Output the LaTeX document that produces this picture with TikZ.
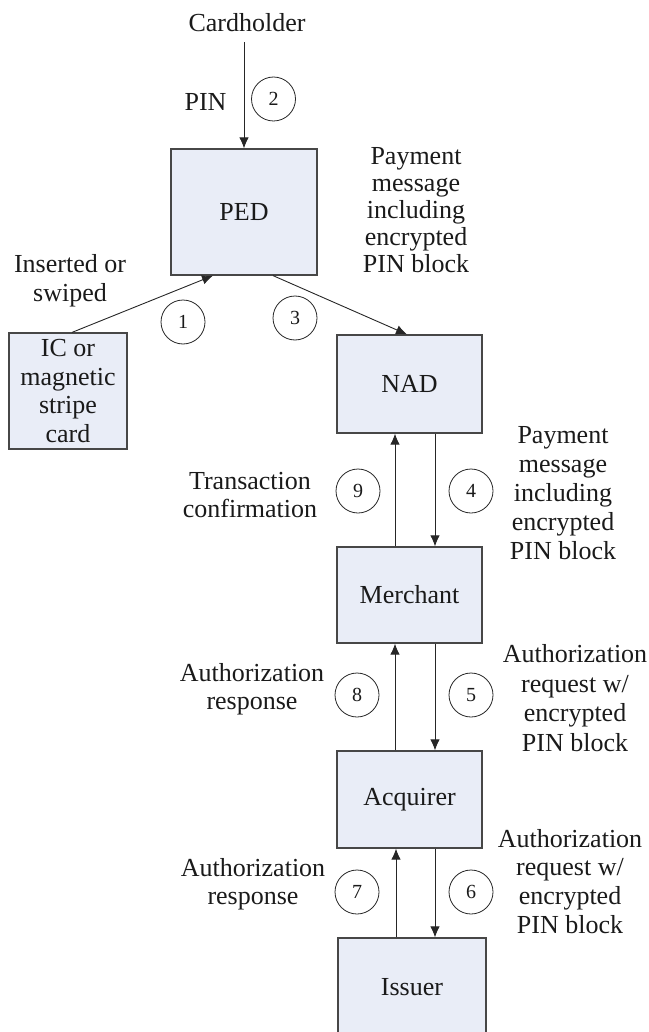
\documentclass[tikz,border=0pt]{standalone}
\usepackage{fontspec}
\setmainfont{Liberation Serif}
\usetikzlibrary{arrows.meta}

\definecolor{boxfill}{HTML}{E9EDF7}
\definecolor{ink}{HTML}{1A1A1A}
\newcommand\txtfont[1]{\fontsize{26}{#1}\selectfont}

\begin{document}
\begin{tikzpicture}[x=1pt,y=-1pt,
  every node/.style={text=ink},
  box/.style={draw=black!72, line width=1.2pt, fill=boxfill, inner sep=0pt,
    align=center, font=\txtfont{28.5}},
  lbl/.style={align=center, inner sep=0pt, font=\txtfont{#1},
    execute at begin node=\strut, execute at end node=\strut},
  lbl/.default=28,
  num/.style={draw=black!85, circle, line width=0.8pt, minimum size=44pt,
    inner sep=0pt, font=\fontsize{20}{22}\selectfont},
  arr/.style={draw=black!85, line width=0.9pt, -{Latex[length=11pt,width=9.5pt]}}
]
\useasboundingbox (0,0) rectangle (648,1032);

% parties and devices
\node[box, minimum width=146pt, minimum height=126pt] (ped)  at (244,212)   {PED};
\node[box, minimum width=118pt, minimum height=116pt] (card) at (68,391)    {IC or\\magnetic\\stripe\\card};
\node[box, minimum width=145pt, minimum height=98pt]  (nad)  at (409.5,384) {NAD};
\node[box, minimum width=145pt, minimum height=96pt]  (merchant) at (409.5,595) {Merchant};
\node[box, minimum width=145pt, minimum height=97pt]  (acquirer) at (409.5,799.5) {Acquirer};
\node[box, minimum width=148pt, minimum height=98pt]  (issuer)   at (412,987) {Issuer};

% cardholder and PIN entry
\node[lbl] (cardholder) at (247,26) {Cardholder};
\node[lbl] (pinlbl) at (205.5,104.5) {PIN};
\node[num] (n2) at (273.5,99) {2};

% message labels
\node[lbl=27] (msgped) at (416,214.5) {Payment\\message\\including\\encrypted\\PIN block};
\node[lbl=29] (swipe) at (70,282.5) {Inserted or\\swiped};
\node[num] (n1) at (183,322) {1};
\node[num] (n3) at (295,318) {3};

\node[lbl=28] (confirm) at (250,499) {Transaction\\confirmation};
\node[num] (n9) at (358,491) {9};
\node[num] (n4) at (471,491) {4};
\node[lbl=29] (msgnad) at (563,497) {Payment\\message\\including\\encrypted\\PIN block};

\node[lbl=28] (resp8) at (252,691) {Authorization\\response};
\node[num] (n8) at (357,695) {8};
\node[num] (n5) at (471,695) {5};
\node[lbl=29.6] (req5) at (575,702.5) {Authorization\\request w/\\encrypted\\PIN block};

\node[lbl=28] (resp7) at (253,886) {Authorization\\response};
\node[num] (n7) at (357,892) {7};
\node[num] (n6) at (471,892) {6};
\node[lbl=28.7] (req6) at (570,885.5) {Authorization\\request w/\\encrypted\\PIN block};

% message flow
\draw[arr] ([yshift=-2pt]cardholder.south -| ped.north) -- (ped.north);
\draw[arr] ([xshift=4pt]card.north) -- ([xshift=-31pt]ped.south);
\draw[arr] ([xshift=29pt]ped.south) -- ([xshift=-2.5pt]nad.north);

\draw[arr] ([xshift=25.5pt]nad.south) -- ([xshift=25.5pt]merchant.north);
\draw[arr] ([xshift=-14.5pt]merchant.north) -- ([xshift=-14.5pt]nad.south);

\draw[arr] ([xshift=25.5pt]merchant.south) -- ([xshift=25.5pt]acquirer.north);
\draw[arr] ([xshift=-14.5pt]acquirer.north) -- ([xshift=-14.5pt]merchant.south);

\draw[arr] ([xshift=25.5pt]acquirer.south) -- ([xshift=23pt]issuer.north);
\draw[arr] ([xshift=-16pt]issuer.north) -- ([xshift=-13.5pt]acquirer.south);
\end{tikzpicture}
\end{document}
